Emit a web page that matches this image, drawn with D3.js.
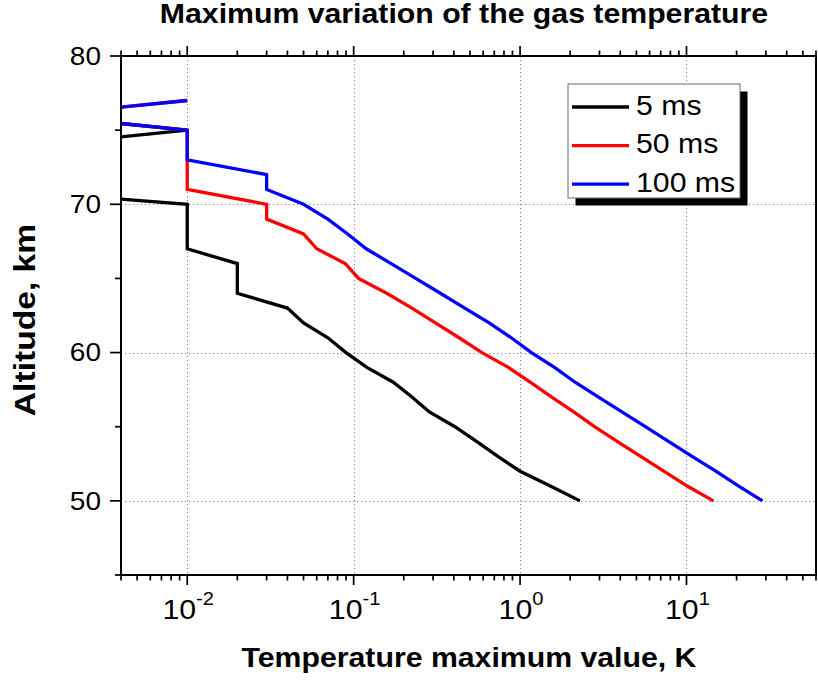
<!DOCTYPE html>
<html>
<head>
<meta charset="utf-8">
<script src="https://cdn.jsdelivr.net/npm/d3@7"></script>
<style>
  html, body { margin: 0; padding: 0; background: #fff; }
  svg { display: block; font-family: Arial, "Liberation Sans", sans-serif; }
</style>
</head>
<body>
<svg id="chart" width="818" height="681"></svg>
<script>
// ---------------- data ----------------
const altitudes = [50,51,52,53,54,55,56,57,58,59,60,61,62,63,64,65,66,67,68,69,70,71,72,73,74,75,76,77];
const series5ms = [2.29,1.52,1.0,0.735,0.55,0.406,0.285,0.224,0.173,0.12,0.09,0.07,0.05,0.04,0.02,0.02,0.02,0.01,0.01,0.01,0.01,0.00075,0.0005,0.0005,0.0013,0.01,0.0013,null];
const series50ms = [14.5,10.1,7.3,5.3,3.85,2.8,2.1,1.55,1.15,0.85,0.59,0.43,0.31,0.224,0.158,0.107,0.089,0.06,0.05,0.03,0.03,0.01,0.01,0.01,0.01,0.01,0.0013,0.01];
const series100ms = [28.6,20.6,15.0,10.8,7.83,5.66,4.09,2.96,2.14,1.61,1.17,0.885,0.652,0.465,0.332,0.236,0.168,0.119,0.092,0.07,0.05,0.03,0.03,0.01,0.01,0.01,0.0013,0.01];
const seriesNames = ["5 ms", "50 ms", "100 ms"];
const seriesColors = ["#000000", "#ff0000", "#0000ff"];
const xMajorTicks = [0.01, 0.1, 1, 10];
const xMajorExp = ["-2", "-1", "0", "1"];
const yMajorTicks = [50, 60, 70, 80];
const yMinorTicks = [45, 55, 65, 75];
const gridY = [50, 60, 70];
const titleText = "Maximum variation of the gas temperature";
const xTitle = "Temperature maximum value, K";
const yTitle = "Altitude, km";

// ---------------- layout ----------------
const pL = 121, pR = 816, pT = 56, pB = 575;
const STRETCH = 1.12;

const svg = d3.select("#chart");
const x = d3.scaleLog().domain([0.004, 60]).range([pL, pR]);
const y = d3.scaleLinear().domain([45, 80]).range([pB, pT]);

function stretch(sel, k) {
  sel.each(function () {
    const L = this.getComputedTextLength();
    d3.select(this).attr("textLength", L * k).attr("lengthAdjust", "spacingAndGlyphs");
  });
}

// minor ticks for x (2..9 x 10^k inside domain)
const xMinor = [];
[-3, -2, -1, 0, 1].forEach(e => {
  for (let m = 2; m <= 9; m++) {
    const v = m * Math.pow(10, e);
    if (v >= 0.004 - 1e-9 && v <= 60 + 1e-9) xMinor.push(v);
  }
});

// clip
svg.append("defs").append("clipPath").attr("id", "plotclip")
  .append("rect").attr("x", pL).attr("y", pT).attr("width", pR - pL).attr("height", pB - pT);

// grid
const grid = svg.append("g").attr("stroke", "#7a7aff").attr("stroke-width", 1).attr("stroke-dasharray", "1.2,2.8");
grid.selectAll("line.gx").data(xMajorTicks).join("line")
  .attr("x1", d => Math.round(x(d)) + 0.5).attr("x2", d => Math.round(x(d)) + 0.5)
  .attr("y1", pT).attr("y2", pB);
grid.selectAll("line.gy").data(gridY).join("line")
  .attr("y1", d => Math.round(y(d)) + 0.5).attr("y2", d => Math.round(y(d)) + 0.5)
  .attr("x1", pL).attr("x2", pR);

// series lines
const allSeries = [series5ms, series50ms, series100ms];
const line = d3.line()
  .defined(d => d.v !== null)
  .x(d => x(d.v))
  .y(d => y(d.a));
const plot = svg.append("g").attr("clip-path", "url(#plotclip)");
allSeries.forEach((s, i) => {
  const pts = altitudes.map((a, j) => ({ a: a, v: s[j] }));
  plot.append("path")
    .attr("d", line(pts))
    .attr("fill", "none")
    .attr("stroke", seriesColors[i])
    .attr("stroke-width", 3.3)
    .attr("stroke-linejoin", "miter")
    .attr("stroke-linecap", "butt");
});

// frame
svg.append("rect").attr("x", pL).attr("y", pT).attr("width", pR - pL).attr("height", pB - pT)
  .attr("stroke", "#000").attr("fill", "none").attr("stroke-width", 2);

// ticks
const tk = svg.append("g").attr("stroke", "#000").attr("stroke-width", 1.7);
xMajorTicks.forEach(v => {
  tk.append("line").attr("x1", x(v)).attr("x2", x(v)).attr("y1", pB).attr("y2", pB + 10);
  tk.append("line").attr("x1", x(v)).attr("x2", x(v)).attr("y1", pT).attr("y2", pT - 10);
});
xMinor.forEach(v => {
  tk.append("line").attr("x1", x(v)).attr("x2", x(v)).attr("y1", pB).attr("y2", pB + 5.5);
  tk.append("line").attr("x1", x(v)).attr("x2", x(v)).attr("y1", pT).attr("y2", pT - 5.5);
});
yMajorTicks.forEach(v => {
  tk.append("line").attr("x1", pL).attr("x2", pL - 11).attr("y1", y(v)).attr("y2", y(v));
});
yMinorTicks.forEach(v => {
  tk.append("line").attr("x1", pL).attr("x2", pL - 6).attr("y1", y(v)).attr("y2", y(v));
});

// y tick labels
const yl = svg.append("g").selectAll("text").data(yMajorTicks).join("text")
  .attr("x", 101).attr("y", d => y(d)).attr("dy", "0.35em")
  .attr("text-anchor", "end").attr("font-size", 25).attr("fill", "#000")
  .text(d => d);
stretch(yl, STRETCH);

// x tick labels (10^k)
xMajorTicks.forEach((v, i) => {
  const t = svg.append("text")
    .attr("x", x(v) + 1).attr("y", 619)
    .attr("text-anchor", "middle").attr("font-size", 27).attr("fill", "#000");
  t.append("tspan").text("10");
  t.append("tspan").attr("font-size", 18).attr("dy", -14).text(xMajorExp[i]);
  stretch(t, STRETCH);
});

// titles
const tt = svg.append("text").attr("x", 464).attr("y", 23).attr("text-anchor", "middle")
  .attr("font-size", 27).attr("font-weight", "bold").text(titleText);
stretch(tt, STRETCH);
const xt = svg.append("text").attr("x", 469).attr("y", 667).attr("text-anchor", "middle")
  .attr("font-size", 27).attr("font-weight", "bold").text(xTitle);
stretch(xt, STRETCH);
const yt = svg.append("text").attr("transform", "translate(35,320) rotate(-90)").attr("text-anchor", "middle")
  .attr("font-size", 30).attr("font-weight", "bold").text(yTitle);
stretch(yt, STRETCH);

// legend
const lg = svg.append("g");
const lx = 568, ly = 84, lw = 172, lh = 114;
lg.append("rect").attr("x", lx + 7.5).attr("y", ly + 7.5).attr("width", lw).attr("height", lh).attr("fill", "#000");
lg.append("rect").attr("x", lx).attr("y", ly).attr("width", lw).attr("height", lh)
  .attr("fill", "#fff").attr("stroke", "#6a6a6a").attr("stroke-width", 1);
seriesNames.forEach((name, i) => {
  const ry = 107 + i * 38.6;
  lg.append("line").attr("x1", 572).attr("x2", 629).attr("y1", ry).attr("y2", ry)
    .attr("stroke", seriesColors[i]).attr("stroke-width", 3.3);
  const t = lg.append("text").attr("x", 636).attr("y", ry + 7.5)
    .attr("font-size", 27).attr("fill", "#000").text(name);
  stretch(t, STRETCH);
});
</script>
</body>
</html>
